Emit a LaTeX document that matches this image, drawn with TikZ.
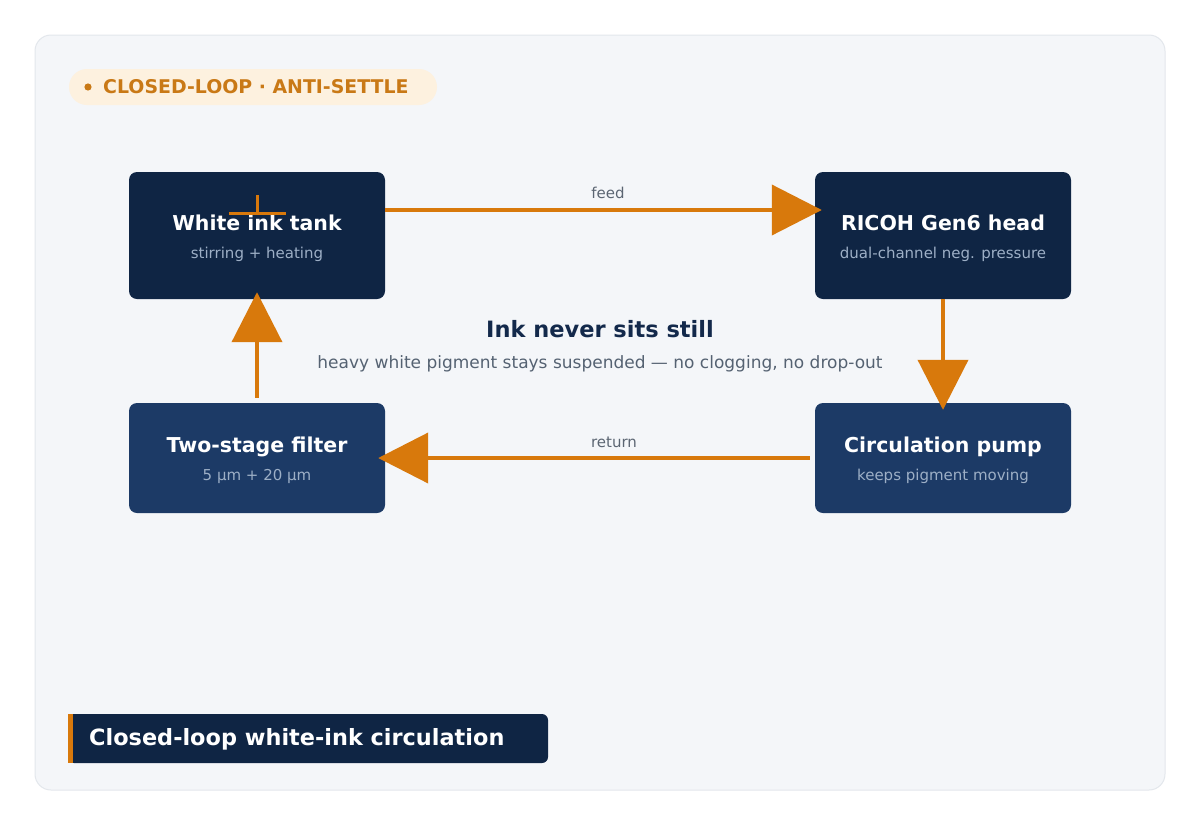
\documentclass[tikz,border=0pt]{standalone}
\usepackage{fontspec}
\setmainfont{DejaVu Sans}
\usetikzlibrary{arrows.meta}
\definecolor{navy}{HTML}{0F2544}
\definecolor{navyl}{HTML}{1C3A66}
\definecolor{accent}{HTML}{D8790C}
\definecolor{badgefg}{HTML}{C97916}
\definecolor{badgebg}{HTML}{FDF1DF}
\definecolor{panel}{HTML}{F4F6F9}
\definecolor{panelline}{HTML}{E3E7EC}
\definecolor{subtxt}{HTML}{9DAFC6}
\definecolor{headtxt}{HTML}{13294B}
\definecolor{bodytxt}{HTML}{556272}
\definecolor{lbltxt}{HTML}{5B6572}
\tikzset{
  box/.style={rounded corners=8pt, minimum width=256pt, inner sep=0pt},
  boxtitle/.style={anchor=base, text=white, font=\fontsize{20.5}{24}\selectfont\bfseries, inner sep=0pt},
  boxsub/.style={anchor=base, text=subtxt, font=\fontsize{15}{18}\selectfont, inner sep=0pt},
  flow/.style={draw=accent, line width=4pt, -{Triangle[length=50pt,width=50pt]}},
  edgelbl/.style={anchor=base, text=lbltxt, font=\fontsize{15}{18}\selectfont, inner sep=0pt}
}
\begin{document}
\begin{tikzpicture}[x=1pt,y=-1pt]
\useasboundingbox (0,0) rectangle (1200,825);
\fill[white] (0,0) rectangle (1200,825);
\draw[panelline, fill=panel, rounded corners=16pt, line width=1pt] (35,35) rectangle (1165,790);
% badge
\fill[badgebg, rounded corners=18pt] (69,69) rectangle (437,105);
\fill[badgefg] (88,87) circle (3.6pt);
\node[anchor=base west, text=badgefg, font=\fontsize{18.9}{22}\selectfont\bfseries, inner sep=0pt] (badge) at (103,93.5) {CLOSED-LOOP · ANTI-SETTLE};
% boxes
\node[box, fill=navy, minimum height=127pt] (tank) at (257,235.5) {};
\node[box, fill=navy, minimum height=127pt] (head) at (943,235.5) {};
\node[box, fill=navyl, minimum height=110pt] (filter) at (257,458) {};
\node[box, fill=navyl, minimum height=110pt] (pump) at (943,458) {};
\node[boxtitle] (tankT) at (257,230) {White ink tank};
\node[boxsub] (tankS) at (257,258.5) {stirring + heating};
\node[boxtitle] (headT) at (943,230) {RICOH Gen6 head};
\node[boxsub] (headS) at (943,258.5) {dual-channel neg. pressure};
\node[boxtitle] (filterT) at (257,452.5) {Two-stage filter};
\node[boxsub] (filterS) at (257,480.5) {5 µm + 20 µm};
\node[boxtitle] (pumpT) at (943,452.5) {Circulation pump};
\node[boxsub] (pumpS) at (943,480.5) {keeps pigment moving};
% stray mark in tank
\coordinate (m1) at (229,213);
\coordinate (m2) at (286,213);
\coordinate (m3) at (257,195);
\coordinate (m4) at (257,213);
\draw[accent, line width=3pt] (m1) -- (m2);
\draw[accent, line width=3pt] (m3) -- (m4);
% arrows
\draw[flow, shorten >=-7pt] (tank.east |- 0,210) -- (head.west |- 0,210);
\draw[flow, shorten >=-7pt] (head.south) -- (pump.north);
\draw[flow, shorten <=5pt, shorten >=-7pt] (pump.west) -- (filter.east);
\draw[flow, shorten <=5pt, shorten >=-7pt] (filter.north) -- (tank.south);
\node[edgelbl] (feed) at (608,198.5) {feed};
\node[edgelbl] (ret) at (614,447.3) {return};
% centre text
\node[anchor=base, text=headtxt, font=\fontsize{22.5}{26}\selectfont\bfseries, inner sep=0pt] (hd) at (600,337.5) {Ink never sits still};
\node[anchor=base, text=bodytxt, font=\fontsize{17}{20}\selectfont, inner sep=0pt] (bd) at (600,368.5) {heavy white pigment stays suspended — no clogging, no drop-out};
% bottom title
\fill[navy, rounded corners=6pt] (68,714) rectangle (548,763);
\fill[accent] (68,714) rectangle (72.5,763);
\node[anchor=base west, text=white, font=\fontsize{22.4}{26}\selectfont\bfseries, inner sep=0pt] (ttl) at (89,745.7) {Closed-loop white-ink circulation};
\end{tikzpicture}
\end{document}
